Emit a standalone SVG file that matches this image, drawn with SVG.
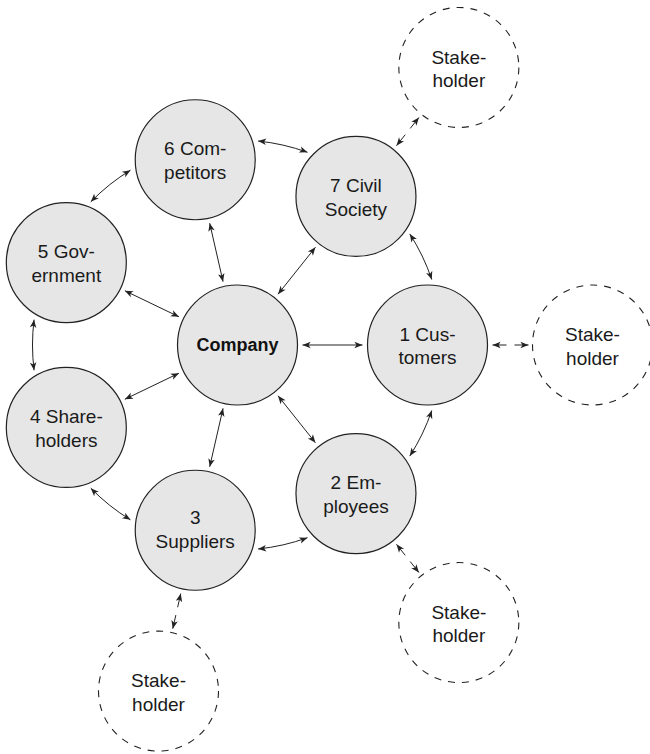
<svg xmlns="http://www.w3.org/2000/svg" width="650" height="754" viewBox="0 0 650 754">
<style>
.node{fill:#e6e6e6;stroke:#222;stroke-width:1.2}
.sh{fill:none;stroke:#222;stroke-width:1.1;stroke-dasharray:7 7}
.t{font-family:"Liberation Sans",Arial,sans-serif;font-size:19px;fill:#1a1a1a;text-anchor:middle}
.b{font-family:"Liberation Sans",Arial,sans-serif;font-size:18px;font-weight:bold;fill:#111;text-anchor:middle}
.c{fill:none;stroke:#222;stroke-width:1}
.d{fill:none;stroke:#222;stroke-width:1;stroke-dasharray:14 8}
</style>
<defs>
<marker id="ah" markerUnits="userSpaceOnUse" markerWidth="10" markerHeight="10" viewBox="-7 -4 8 8" refX="0" refY="0" orient="auto-start-reverse">
<path d="M0,0 L-6.5,-2.6 L-4.8,0 L-6.5,2.6 Z" fill="#222"/>
</marker>
</defs>
<rect width="650" height="754" fill="#fff"/>
<g id="connectors">
<line class="c" x1="302.5" y1="345" x2="362.5" y2="345" marker-start="url(#ah)" marker-end="url(#ah)"/>
<line class="c" x1="278.03" y1="395.82" x2="315.44" y2="442.73" marker-start="url(#ah)" marker-end="url(#ah)"/>
<line class="c" x1="223.04" y1="408.37" x2="209.69" y2="466.87" marker-start="url(#ah)" marker-end="url(#ah)"/>
<line class="c" x1="178.94" y1="373.2" x2="124.88" y2="399.24" marker-start="url(#ah)" marker-end="url(#ah)"/>
<line class="c" x1="178.94" y1="316.8" x2="124.88" y2="290.76" marker-start="url(#ah)" marker-end="url(#ah)"/>
<line class="c" x1="223.04" y1="281.63" x2="209.69" y2="223.13" marker-start="url(#ah)" marker-end="url(#ah)"/>
<line class="c" x1="278.03" y1="294.18" x2="315.44" y2="247.27" marker-start="url(#ah)" marker-end="url(#ah)"/>
<path class="c" d="M431.78,410.43 A205,205 0 0 1 409.78,456.1" marker-start="url(#ah)" marker-end="url(#ah)"/>
<path class="c" d="M307.48,537.69 A205,205 0 0 1 258.06,548.97" marker-start="url(#ah)" marker-end="url(#ah)"/>
<path class="c" d="M130.47,519.84 A205,205 0 0 1 90.8,488.19" marker-start="url(#ah)" marker-end="url(#ah)"/>
<path class="c" d="M34.07,370.34 A205,205 0 0 1 34.07,319.66" marker-start="url(#ah)" marker-end="url(#ah)"/>
<path class="c" d="M90.8,201.81 A205,205 0 0 1 130.47,170.16" marker-start="url(#ah)" marker-end="url(#ah)"/>
<path class="c" d="M258.06,141.03 A205,205 0 0 1 307.48,152.31" marker-start="url(#ah)" marker-end="url(#ah)"/>
<path class="c" d="M409.78,233.9 A205,205 0 0 1 431.78,279.57" marker-start="url(#ah)" marker-end="url(#ah)"/>
<line class="d" x1="492.5" y1="345" x2="528.5" y2="345" marker-start="url(#ah)" marker-end="url(#ah)"/>
<line class="d" x1="396.49" y1="544.37" x2="418.94" y2="572.51" marker-start="url(#ah)" marker-end="url(#ah)"/>
<line class="d" x1="180.76" y1="593.61" x2="172.75" y2="628.7" marker-start="url(#ah)" marker-end="url(#ah)"/>
<line class="d" x1="396.49" y1="145.63" x2="418.94" y2="117.49" marker-start="url(#ah)" marker-end="url(#ah)"/>
</g>
<g id="company"><circle class="node" cx="237.5" cy="345" r="60"/><text class="b" x="237.5" y="351">Company</text></g>
<g id="customers"><circle class="node" cx="427.5" cy="345" r="60"/><text class="t" x="427.5" y="340.5">1 Cus-</text><text class="t" x="427.5" y="364">tomers</text></g>
<g id="employees"><circle class="node" cx="355.96" cy="493.55" r="60"/><text class="t" x="355.96" y="489">2 Em-</text><text class="t" x="355.96" y="512.5">ployees</text></g>
<g id="suppliers"><circle class="node" cx="195.22" cy="530.24" r="60"/><text class="t" x="195.22" y="524">3</text><text class="t" x="195.22" y="547.5">Suppliers</text></g>
<g id="shareholders"><circle class="node" cx="66.32" cy="427.44" r="60"/><text class="t" x="66.32" y="423">4 Share-</text><text class="t" x="66.32" y="446.5">holders</text></g>
<g id="government"><circle class="node" cx="66.32" cy="262.56" r="60"/><text class="t" x="66.32" y="258">5 Gov-</text><text class="t" x="66.32" y="281.5">ernment</text></g>
<g id="competitors"><circle class="node" cx="195.22" cy="159.76" r="60"/><text class="t" x="195.22" y="155">6 Com-</text><text class="t" x="195.22" y="178.5">petitors</text></g>
<g id="civil-society"><circle class="node" cx="355.96" cy="196.45" r="60"/><text class="t" x="355.96" y="192">7 Civil</text><text class="t" x="355.96" y="215.5">Society</text></g>
<g id="stakeholder-top"><circle class="sh" cx="458.84" cy="67.45" r="60"/><text class="t" x="458.84" y="63.5">Stake-</text><text class="t" x="458.84" y="87">holder</text></g>
<g id="stakeholder-right"><circle class="sh" cx="592.5" cy="345" r="60"/><text class="t" x="592.5" y="341">Stake-</text><text class="t" x="592.5" y="364.5">holder</text></g>
<g id="stakeholder-bottom-right"><circle class="sh" cx="458.84" cy="622.55" r="60"/><text class="t" x="458.84" y="618.5">Stake-</text><text class="t" x="458.84" y="642">holder</text></g>
<g id="stakeholder-bottom-left"><circle class="sh" cx="158.51" cy="691.1" r="60"/><text class="t" x="158.51" y="687">Stake-</text><text class="t" x="158.51" y="710.5">holder</text></g>
</svg>
